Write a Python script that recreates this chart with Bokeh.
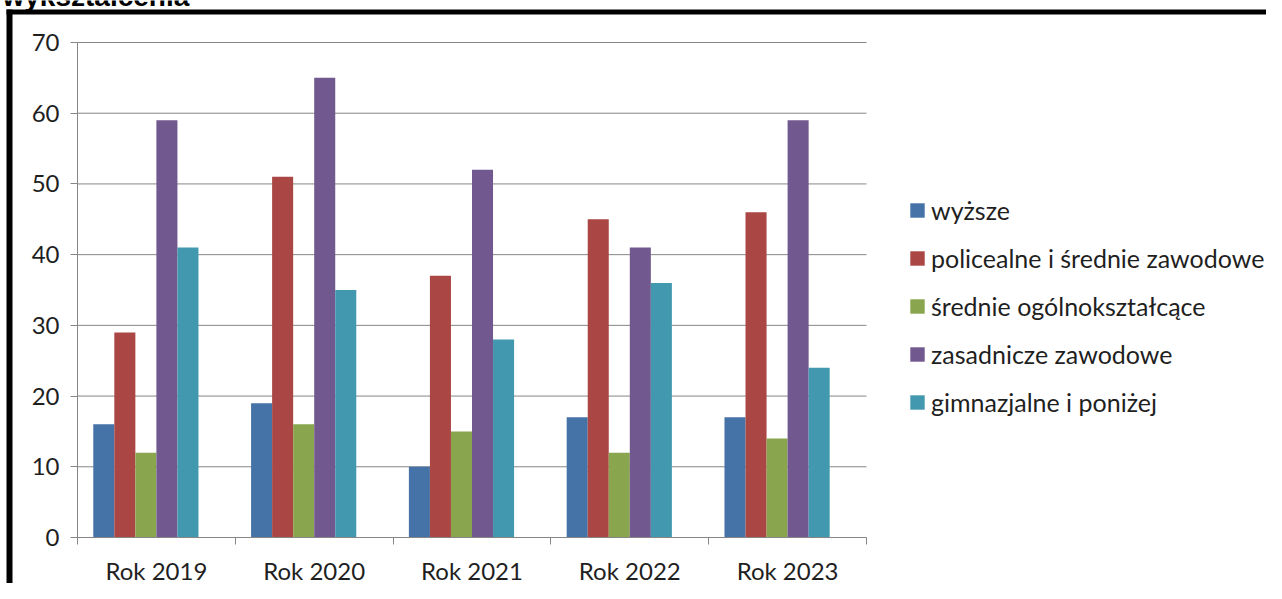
from bokeh.plotting import figure
from bokeh.models import (ColumnDataSource, FixedTicker, Range1d, Legend, LegendItem,
                          BoxAnnotation, LinearAxis, Label)
from bokeh.transform import dodge
from bokeh.embed import file_html
from bokeh.resources import INLINE

# ---- data ----
years = ["Rok 2019", "Rok 2020", "Rok 2021", "Rok 2022", "Rok 2023"]
series_names = ["wyższe", "policealne i średnie zawodowe", "średnie ogólnokształcące",
                "zasadnicze zawodowe", "gimnazjalne i poniżej"]
wyzsze = [16, 19, 10, 17, 17]
policealne = [29, 51, 37, 45, 46]
srednie_ogolne = [12, 16, 15, 12, 14]
zasadnicze = [59, 65, 52, 41, 59]
gimnazjalne = [41, 35, 28, 36, 24]
y_ticks = [0, 10, 20, 30, 40, 50, 60, 70]
title_text = "wykształcenia"

colors = ["#4572A7", "#AA4643", "#89A54E", "#71588F", "#4198AF"]
series_values = [wyzsze, policealne, srednie_ogolne, zasadnicze, gimnazjalne]

# ---- layout (figure pixels) ----
W, H = 1266, 583
AX_L, AX_R = 77, 866      # plot area left / right
AX_T, AX_B = 42, 537      # plot area top / bottom
TEXT = "#1f1f1f"
GRID = "#868686"

n = len(years)
ymax = y_ticks[-1]
ppx = (AX_R - AX_L) / n
ppy = (AX_B - AX_T) / ymax
x_range = Range1d(-AX_L / ppx, (W - AX_L) / ppx)
y_range = Range1d(-(H - AX_B) / ppy, AX_B / ppy)

p = figure(width=W, height=H, output_backend="svg", toolbar_location=None,
           x_range=x_range, y_range=y_range, x_axis_type=None, y_axis_type=None,
           min_border=0, background_fill_color="white", border_fill_color="white",
           outline_line_color=None)
p.xgrid.visible = False
p.ygrid.visible = False

# horizontal gridlines across the plot area
p.segment(x0=[0] * len(y_ticks), x1=[n] * len(y_ticks), y0=y_ticks, y1=y_ticks,
          line_color=GRID, line_width=1)

# bars: 6 slots per category (last one empty), gap = 1.5 slots
slot = 1.0 / 7.5
centers = [i + 0.5 for i in range(n)]
renderers = []
for i, (vals, col) in enumerate(zip(series_values, colors)):
    src = ColumnDataSource(dict(x=centers, top=vals, year=years))
    off = -0.5 + 0.75 * slot + (i + 0.5) * slot
    r = p.vbar(x=dodge("x", off, range=p.x_range), top="top", bottom=0, width=slot,
               source=src, fill_color=col, line_color=None)
    renderers.append(r)

# y axis placed at x = 0
ya = LinearAxis(fixed_location=0, bounds=(0, ymax), ticker=FixedTicker(ticks=y_ticks))
ya.axis_line_color = GRID
ya.major_tick_line_color = GRID
ya.major_tick_out = 7
ya.major_tick_in = 0
ya.minor_tick_line_color = None
ya.major_label_standoff = 11
ya.major_label_text_font = "Lato"
ya.major_label_text_font_size = "24px"
ya.major_label_text_color = TEXT
p.add_layout(ya, "left")

# x axis placed at y = 0, ticks on category boundaries, labels at centres
xa = LinearAxis(fixed_location=0, bounds=(0, n),
                ticker=FixedTicker(ticks=centers, minor_ticks=list(range(n + 1))))
xa.major_label_overrides = {c: y for c, y in zip(centers, years)}
xa.axis_line_color = GRID
xa.major_tick_line_color = None
xa.major_tick_out = 7
xa.major_tick_in = 0
xa.minor_tick_line_color = GRID
xa.minor_tick_out = 7
xa.minor_tick_in = 0
xa.major_label_standoff = 11
xa.major_label_text_font = "Lato"
xa.major_label_text_font_size = "24px"
xa.major_label_text_color = TEXT
p.add_layout(xa, "below")

# legend
items = [LegendItem(label=nm, renderers=[r]) for nm, r in zip(series_names, renderers)]
legend = Legend(items=items, location=(908, 166), orientation="vertical",
                glyph_width=18, glyph_height=18, label_height=18, spacing=18,
                label_standoff=5, padding=0, margin=0,
                border_line_color=None, background_fill_alpha=0,
                label_text_font="Lato", label_text_font_size="25px",
                label_text_color=TEXT)
p.add_layout(legend, "center")

# outer black frame (top and left edges) of the original sheet
p.add_layout(BoxAnnotation(left=6, right=12, bottom=0, top=H - 9,
                           left_units="screen", right_units="screen",
                           top_units="screen", bottom_units="screen",
                           fill_color="black", fill_alpha=1, line_color=None))
p.add_layout(BoxAnnotation(left=6, right=W, bottom=H - 14, top=H - 9,
                           left_units="screen", right_units="screen",
                           top_units="screen", bottom_units="screen",
                           fill_color="black", fill_alpha=1, line_color=None))

# title, cut off at the top edge as in the original
p.add_layout(Label(x=2, y=H + 4, x_units="screen", y_units="screen",
                   text=title_text, text_font="Liberation Sans", text_font_style="bold",
                   text_font_size="28px", text_baseline="alphabetic", text_color="black"))

open("out.html", "w").write(file_html(p, INLINE))
